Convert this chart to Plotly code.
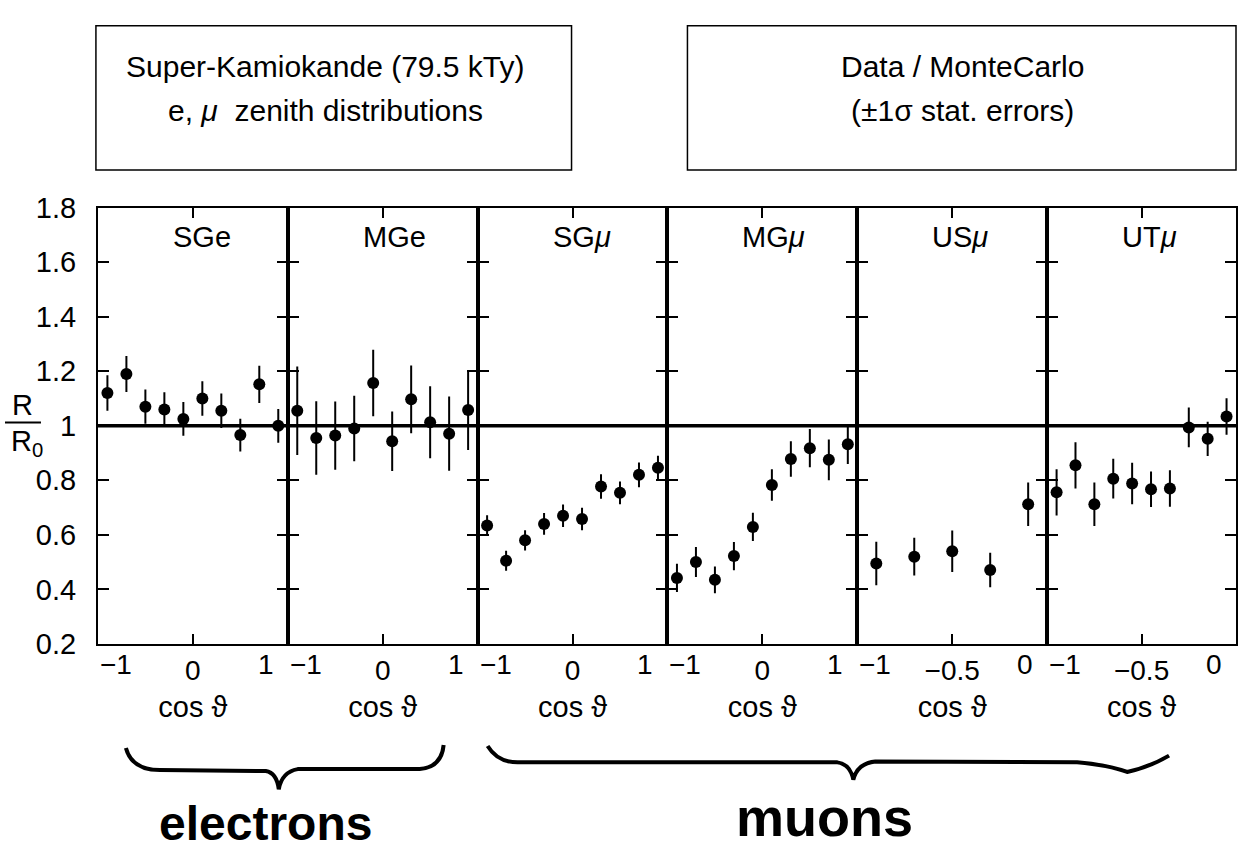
import plotly.graph_objects as go

W, H = 1238, 866
FONT = "Liberation Sans, Arial, Helvetica, sans-serif"
HAND = "Liberation Sans Narrow, Arial Narrow, Liberation Sans, sans-serif"

# ---------------- data ----------------
panel_names = ["SGe", "MGe", "SG<i>μ</i>", "MG<i>μ</i>", "US<i>μ</i>", "UT<i>μ</i>"]

cos_full = [-0.9, -0.7, -0.5, -0.3, -0.1, 0.1, 0.3, 0.5, 0.7, 0.9]
cos_us = [-0.9, -0.7, -0.5, -0.3, -0.1]
cos_ut = [-0.95, -0.85, -0.75, -0.65, -0.55, -0.45, -0.35, -0.25, -0.15, -0.05]

sge_val = [1.12, 1.19, 1.07, 1.06, 1.025, 1.10, 1.055, 0.966, 1.152, 1.0]
sge_err = [0.065, 0.066, 0.063, 0.063, 0.062, 0.063, 0.063, 0.060, 0.068, 0.062]
mge_val = [1.055, 0.955, 0.964, 0.99, 1.157, 0.943, 1.097, 1.013, 0.971, 1.058]
mge_err = [0.162, 0.135, 0.125, 0.120, 0.122, 0.109, 0.124, 0.132, 0.136, 0.147]
sgmu_val = [0.634, 0.505, 0.58, 0.64, 0.67, 0.658, 0.777, 0.754, 0.82, 0.846]
sgmu_err = [0.038, 0.037, 0.037, 0.040, 0.041, 0.041, 0.045, 0.042, 0.045, 0.044]
mgmu_val = [0.442, 0.5, 0.435, 0.522, 0.629, 0.783, 0.878, 0.918, 0.875, 0.932]
mgmu_err = [0.052, 0.055, 0.049, 0.052, 0.052, 0.058, 0.065, 0.070, 0.075, 0.072]
usmu_val = [0.495, 0.52, 0.54, 0.471, 0.712]
usmu_err = [0.080, 0.069, 0.076, 0.063, 0.080]
utmu_val = [0.756, 0.855, 0.712, 0.806, 0.788, 0.767, 0.77, 0.994, 0.952, 1.034]
utmu_err = [0.085, 0.085, 0.080, 0.073, 0.076, 0.065, 0.067, 0.073, 0.063, 0.067]

x_ranges = [[-1, 1], [-1, 1], [-1, 1], [-1, 1], [-1, 0], [-1, 0]]
xtick_vals = [[0], [0], [0], [0], [-0.5], [-0.5]]
xtick_text = [["0"], ["0"], ["0"], ["0"], ["−0.5"], ["−0.5"]]
xedge_left = ["−1", "−1", "−1", "−1", "−1", "−1"]
xedge_right = ["1", "1", "1", "1", "0", "0"]
x_title = "cos ϑ"

ytick_vals = [0.2, 0.4, 0.6, 0.8, 1.0, 1.2, 1.4, 1.6, 1.8]
ytick_text = ["0.2", "0.4", "0.6", "0.8", "1", "1.2", "1.4", "1.6", "1.8"]
y_range = [0.2, 1.8]
ref_level = 1.0

box1_lines = ["Super-Kamiokande (79.5 kTy)", "e, <i>μ</i>  zenith distributions"]
box2_lines = ["Data / MonteCarlo", "(±1σ stat. errors)"]
group_labels = ["electrons", "muons"]

series = [
    (cos_full, sge_val, sge_err),
    (cos_full, mge_val, mge_err),
    (cos_full, sgmu_val, sgmu_err),
    (cos_full, mgmu_val, mgmu_err),
    (cos_us, usmu_val, usmu_err),
    (cos_ut, utmu_val, utmu_err),
]

# ---------------- layout helpers ----------------
def px(x):
    return x / W

def py(y):
    return 1 - y / H

panel_left = [98, 288, 478, 668, 858, 1048]
panel_w = 190
plot_top, plot_bot = 199, 652

fig = go.Figure()
layout = dict(
    width=W, height=H, autosize=False,
    margin=dict(l=0, r=0, t=0, b=0),
    paper_bgcolor="white", plot_bgcolor="white",
    showlegend=False,
    font=dict(family=FONT, color="black", size=29),
)

annotations = []
shapes = []

for i, (xs, vals, errs) in enumerate(series):
    k = "" if i == 0 else str(i + 1)
    L = panel_left[i]
    R = min(L + panel_w, 1237)
    fig.add_trace(go.Scatter(
        x=xs, y=vals, mode="markers",
        marker=dict(size=12, color="black"),
        error_y=dict(type="data", array=errs, visible=True, thickness=2, width=0, color="black"),
        xaxis="x" + k, yaxis="y" + k, cliponaxis=False,
    ))
    layout["xaxis" + k] = dict(
        domain=[px(L), px(R)], range=x_ranges[i], anchor="y" + k,
        showline=True, linecolor="black", linewidth=2, mirror="ticks",
        ticks="inside", ticklen=10, tickwidth=1.5, tickcolor="black",
        tickvals=xtick_vals[i], ticktext=xtick_text[i],
        showgrid=False, zeroline=False,
        tickfont=dict(size=28, family=FONT),
        title=dict(text=x_title, font=dict(size=29, family=FONT), standoff=12),
        fixedrange=True,
    )
    layout["yaxis" + k] = dict(
        domain=[py(plot_bot), py(plot_top)], range=y_range, anchor="x" + k,
        showline=True, linecolor="black", linewidth=2, mirror="ticks",
        ticks="inside", ticklen=11, tickwidth=1.5, tickcolor="black",
        tickvals=ytick_vals, ticktext=ytick_text,
        showticklabels=(i == 0), ticklabelstandoff=14,
        showgrid=False, zeroline=False,
        tickfont=dict(size=29, family=FONT),
        fixedrange=True,
    )
    # panel title
    annotations.append(dict(
        text=panel_names[i], xref="x" + k + " domain", x=73 / 190, xanchor="left",
        yref="paper", y=py(229), yanchor="middle", showarrow=False,
        font=dict(size=29, family=FONT),
    ))
    # edge tick labels
    annotations.append(dict(
        text=xedge_left[i], xref="x" + k + " domain", x=0, xanchor="left",
        yref="paper", y=py(673), yanchor="middle", showarrow=False,
        font=dict(size=28, family=FONT),
    ))
    annotations.append(dict(
        text=xedge_right[i], xref="x" + k + " domain", x=(R - 22 - L) / (R - L), xanchor="center",
        yref="paper", y=py(673), yanchor="middle", showarrow=False,
        font=dict(size=28, family=FONT),
    ))

# reference line at R/R0 = 1 across all panels
shapes.append(dict(type="line", xref="paper", yref="y", x0=px(98), x1=px(1237),
                   y0=ref_level, y1=ref_level, line=dict(color="black", width=3.5)))

# y axis label R / R0
annotations.append(dict(text="R", xref="paper", yref="paper", x=px(23), y=py(404),
                        xanchor="center", yanchor="middle", showarrow=False,
                        font=dict(size=29, family=FONT)))
annotations.append(dict(text="R<sub>0</sub>", xref="paper", yref="paper", x=px(27), y=py(443),
                        xanchor="center", yanchor="middle", showarrow=False,
                        font=dict(size=29, family=FONT)))
shapes.append(dict(type="line", xref="paper", yref="paper", x0=px(5), x1=px(41),
                   y0=py(422), y1=py(422), line=dict(color="black", width=2)))

# header boxes
shapes.append(dict(type="rect", xref="paper", yref="paper", x0=px(96), x1=px(572),
                   y0=py(10), y1=py(160), line=dict(color="black", width=1.5)))
shapes.append(dict(type="rect", xref="paper", yref="paper", x0=px(688), x1=px(1237),
                   y0=py(10), y1=py(160), line=dict(color="black", width=1.5)))
for j, t in enumerate(box1_lines):
    annotations.append(dict(text=t, xref="paper", yref="paper", x=px(326), y=py([52, 98][j]),
                            xanchor="center", yanchor="middle", showarrow=False,
                            font=dict(size=30, family=FONT)))
for j, t in enumerate(box2_lines):
    annotations.append(dict(text=t, xref="paper", yref="paper", x=px(963), y=py([52, 98][j]),
                            xanchor="center", yanchor="middle", showarrow=False,
                            font=dict(size=30, family=FONT)))

# hand-drawn braces
def path_px(cmds):
    out = []
    for c in cmds:
        if isinstance(c, str):
            out.append(c)
        else:
            out.append(f"{px(c[0]):.5f},{py(c[1]):.5f}")
    return " ".join(out)

brace_e = path_px(["M", (126, 760), "Q", (132, 783), (160, 783), "L", (266, 784),
                   "Q", (277, 786), (279, 803), "Q", (282, 785), (298, 782), "L", (420, 782),
                   "Q", (442, 780), (444, 757)])
brace_m = path_px(["M", (488, 758), "Q", (498, 775), (518, 775), "L", (838, 775),
                   "Q", (851, 777), (854, 793), "Q", (858, 776), (876, 774), "L", (1078, 775),
                   "Q", (1110, 778), (1128, 785), "Q", (1150, 780), (1170, 768)])
for p in (brace_e, brace_m):
    shapes.append(dict(type="path", xref="paper", yref="paper", path=p,
                       line=dict(color="black", width=4)))

annotations.append(dict(text="<b>" + group_labels[0] + "</b>", xref="paper", yref="paper",
                        x=px(266), y=py(838), xanchor="center", yanchor="middle", showarrow=False,
                        font=dict(size=48, family=HAND)))
annotations.append(dict(text="<b>" + group_labels[1] + "</b>", xref="paper", yref="paper",
                        x=px(825), y=py(832), xanchor="center", yanchor="middle", showarrow=False,
                        font=dict(size=54, family=HAND)))

layout["annotations"] = annotations
layout["shapes"] = shapes
fig.update_layout(**layout)
fig.write_html("out.html", config={"displayModeBar": False})
